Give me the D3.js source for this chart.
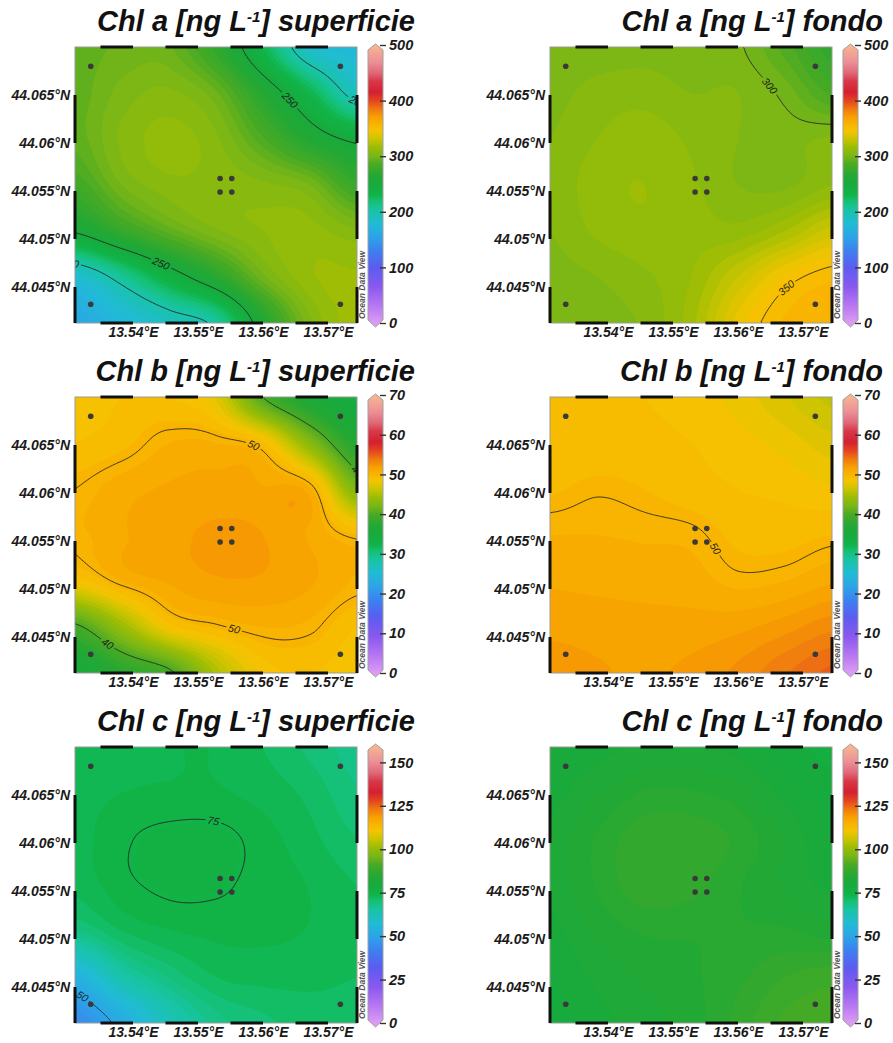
<!DOCTYPE html>
<html>
<head>
<meta charset="utf-8">
<script src="https://cdn.jsdelivr.net/npm/d3@7"></script>
<style>
  body { margin: 0; background: #fff; }
  svg { display: block; }
  text { font-family: "Liberation Sans", Arial, sans-serif; }
</style>
</head>
<body>
<svg id="chart" width="893" height="1043"></svg>
<script>
// ---- data ----
const lonTicks = [13.54, 13.55, 13.56, 13.57]
const latTicks = [44.045, 44.05, 44.055, 44.06, 44.065]
const lonExtent = [13.53108, 13.57446]
const latExtent = [44.04125, 44.0700]

// sampling stations
const stationLon = [13.5335, 13.5719, 13.5534, 13.5552, 13.5534, 13.5552, 13.5335, 13.5719]
const stationLat = [44.0680, 44.0680, 44.0563, 44.0563, 44.0549, 44.0549, 44.0432, 44.0432]

// coarse gridded field (rows north -> south, cols west -> east)
const gridLon = [13.53108, 13.53831, 13.54554, 13.55277, 13.56000, 13.56723, 13.57446]
const gridLat = [44.07000, 44.06521, 44.06042, 44.05563, 44.05083, 44.04604, 44.04125]

const chlaSuperficie = [
  [292, 296, 296, 272, 230, 185, 178],
  [292, 302, 306, 296, 264, 230, 192],
  [292, 306, 312, 306, 286, 262, 246],
  [280, 300, 308, 308, 306, 300, 276],
  [252, 274, 292, 304, 310, 312, 306],
  [182, 208, 238, 266, 298, 314, 316],
  [160, 176, 190, 205, 262, 304, 318]
]
const chlaFondo = [
  [300.5, 302, 303, 302, 301, 288, 272],
  [303, 307, 308, 305, 305, 298, 284],
  [305, 310, 313, 309, 305, 303, 306],
  [306, 313, 315, 311, 305, 304, 310],
  [305, 311, 314, 313, 312, 320, 332],
  [303, 305, 309, 315, 330, 346, 354],
  [302, 303, 306, 318, 342, 356, 360]
]
const chlbSuperficie = [
  [48.5, 49.0, 49.0, 47.5, 40.0, 36.0, 34.0],
  [49.0, 49.5, 50.4, 50.4, 49.2, 43.0, 37.0],
  [50.0, 50.8, 51.2, 51.4, 51.2, 50.6, 42.5],
  [50.2, 51.0, 51.6, 51.9, 51.8, 51.0, 49.7],
  [48.5, 50.4, 51.2, 51.7, 51.7, 51.2, 50.3],
  [39.5, 44.0, 48.5, 49.8, 50.4, 50.2, 49.0],
  [35.0, 37.5, 39.5, 45.0, 48.5, 49.0, 48.5]
]
const chlbFondo = [
  [49.0, 49.0, 49.0, 48.7, 48.0, 47.0, 46.0],
  [49.2, 49.2, 49.2, 49.0, 48.6, 48.0, 47.2],
  [49.6, 49.9, 49.7, 49.3, 49.0, 48.8, 48.4],
  [50.4, 50.4, 50.3, 50.2, 49.5, 49.4, 49.7],
  [51.0, 50.9, 50.8, 50.7, 50.2, 50.4, 51.0],
  [51.6, 51.5, 51.4, 51.4, 51.6, 52.2, 53.0],
  [52.2, 51.9, 51.7, 52.0, 52.7, 53.8, 54.8]
]
const chlcSuperficie = [
  [72.0, 73.0, 73.5, 73.5, 72.0, 70.0, 68.0],
  [73.0, 73.6, 73.8, 73.8, 73.0, 71.5, 69.0],
  [73.0, 74.7, 75.6, 75.6, 74.3, 72.5, 70.5],
  [72.5, 74.5, 75.4, 75.3, 74.4, 73.5, 72.0],
  [68.5, 72.0, 73.5, 74.0, 74.0, 73.5, 72.5],
  [54.0, 64.0, 69.0, 72.0, 72.5, 72.5, 72.0],
  [44.0, 52.0, 62.0, 68.0, 70.0, 71.0, 71.0]
]
const chlcFondo = [
  [80, 81, 82, 82, 81, 79, 78],
  [81, 83, 85, 85, 84, 81, 79],
  [82, 85, 87.5, 87.5, 86, 83, 80],
  [82, 85, 87.5, 87, 85, 83, 81],
  [81, 83.5, 85, 85, 85, 85, 84],
  [80, 82, 83.5, 84.5, 86, 88, 89],
  [79, 81, 82.5, 84, 87, 90, 91]
]

// colour bar ticks
const ticksChla = [0, 100, 200, 300, 400, 500]
const ticksChlb = [0, 10, 20, 30, 40, 50, 60, 70]
const ticksChlc = [0, 25, 50, 75, 100, 125, 150]

// contour levels and label anchors [level, lon, lat]
const levelsChlaSup = [200, 250]
const levelsChlaFon = [300, 350]
const levelsChlbSup = [40, 50]
const levelsChlbFon = [50]
const levelsChlcSup = [50, 75]
const levelsChlcFon = []
const labelsChlaSup = [[250, 13.5642, 44.0645], [200, 13.5743, 44.06385], [250, 13.5439, 44.0468], [200, 13.5306, 44.04844]]
const labelsChlaFon = [[300, 13.5654, 44.06625], [350, 13.5668, 44.04542]]
const labelsChlbSup = [[50, 13.5585, 44.0649], [50, 13.5557, 44.04615], [40, 13.5743, 44.0621], [40, 13.5369, 44.0451]]
const labelsChlbFon = [[50, 13.5562, 44.05406]]
const labelsChlcSup = [[75, 13.5522, 44.0617], [50, 13.5325, 44.0443]]
const labelsChlcFon = []

// ODV-like palette, fraction of the colour range
const palette = [
  [0.00, '#dc9cf4'], [0.06, '#b878f2'], [0.13, '#8a58f0'], [0.20, '#5c5cf0'],
  [0.26, '#3c80f0'], [0.31, '#2ca4e8'], [0.36, '#20bcd4'], [0.41, '#18c4a0'],
  [0.44, '#14c070'], [0.46, '#10b448'], [0.50, '#18aa3c'], [0.53, '#24a834'],
  [0.57, '#48aa24'], [0.60, '#78b618'], [0.63, '#98bc06'], [0.66, '#c8c400'],
  [0.69, '#f4c400'], [0.71, '#f8b800'], [0.74, '#f8a000'], [0.77, '#f07810'],
  [0.80, '#e44420'], [0.83, '#d42030'], [0.87, '#d83848'], [0.90, '#e06878'],
  [0.94, '#ec9098'], [1.00, '#f8b890']
]

const panels = [
  {name: 'Chl a', layer: 'superficie', grid: chlaSuperficie, max: 500, ticks: ticksChla, levels: levelsChlaSup, labels: labelsChlaSup, col: 0, row: 0},
  {name: 'Chl a', layer: 'fondo', grid: chlaFondo, max: 500, ticks: ticksChla, levels: levelsChlaFon, labels: labelsChlaFon, col: 1, row: 0},
  {name: 'Chl b', layer: 'superficie', grid: chlbSuperficie, max: 70, ticks: ticksChlb, levels: levelsChlbSup, labels: labelsChlbSup, col: 0, row: 1},
  {name: 'Chl b', layer: 'fondo', grid: chlbFondo, max: 70, ticks: ticksChlb, levels: levelsChlbFon, labels: labelsChlbFon, col: 1, row: 1},
  {name: 'Chl c', layer: 'superficie', grid: chlcSuperficie, max: 160, ticks: ticksChlc, levels: levelsChlcSup, labels: labelsChlcSup, col: 0, row: 2},
  {name: 'Chl c', layer: 'fondo', grid: chlcFondo, max: 160, ticks: ticksChlc, levels: levelsChlcFon, labels: labelsChlcFon, col: 1, row: 2}
]

// ---- layout ----
const W = 282, H = 276
const colX = [75, 550]
const rowY = [47, 397, 747]
const titleRight = [W + 58, W + 51]
const nx = 188, ny = 184, cell = W / nx
const font = '"Liberation Sans", Arial, sans-serif'

// catmull-rom bicubic on the coarse grid
const cr = (p0, p1, p2, p3, t) =>
  0.5 * (2 * p1 + (-p0 + p2) * t + (2 * p0 - 5 * p1 + 4 * p2 - p3) * t * t + (-p0 + 3 * p1 - 3 * p2 + p3) * t * t * t)

function bicubic(g, u, v) {
  const m = g.length, n = g[0].length
  const i = Math.max(0, Math.min(n - 2, Math.floor(u)))
  const j = Math.max(0, Math.min(m - 2, Math.floor(v)))
  const tx = u - i, ty = v - j
  const at = (r, c) => g[Math.max(0, Math.min(m - 1, r))][Math.max(0, Math.min(n - 1, c))]
  const row = r => cr(at(r, i - 1), at(r, i), at(r, i + 1), at(r, i + 2), tx)
  return cr(row(j - 1), row(j), row(j + 1), row(j + 2), ty)
}

// iso line of one level, with the grid border parts removed
function isoLines(values, level) {
  const geo = d3.contours().size([nx, ny]).thresholds([level])(values)[0]
  const onB = p => p[0] <= 0 || p[0] >= nx || p[1] <= 0 || p[1] >= ny
  const lines = []
  geo.coordinates.forEach(poly => poly.forEach(ring => {
    const last = ring[ring.length - 1]
    const pts = (last[0] === ring[0][0] && last[1] === ring[0][1]) ? ring.slice(0, -1) : ring
    const n = pts.length
    const ok = k => !(onB(pts[k]) && onB(pts[(k + 1) % n]))
    let start = 0
    for (let k = 0; k < n; k++) if (!ok(k)) { start = k; break }
    let cur = null
    for (let s = 0; s < n; s++) {
      const k = (start + s) % n
      if (ok(k)) {
        if (!cur) { cur = [pts[k]]; lines.push(cur) }
        cur.push(pts[(k + 1) % n])
      } else cur = null
    }
  }))
  return lines.map(l => l.map(p => [p[0] * cell, p[1] * cell]))
}

const svg = d3.select('#chart')
const defs = svg.append('defs')

panels.forEach((p, k) => {
  const g = svg.append('g').attr('transform', `translate(${colX[p.col]},${rowY[p.row]})`)
  const x = d3.scaleLinear().domain(lonExtent).range([0, W])
  const y = d3.scaleLinear().domain([latExtent[1], latExtent[0]]).range([0, H])
  const color = d3.scaleLinear()
    .domain(palette.map(d => d[0] * p.max))
    .range(palette.map(d => d[1]))
    .clamp(true)

  const gu = d3.scaleLinear().domain([gridLon[0], gridLon[gridLon.length - 1]]).range([0, gridLon.length - 1])
  const gv = d3.scaleLinear().domain([gridLat[0], gridLat[gridLat.length - 1]]).range([0, gridLat.length - 1])
  const values = new Float64Array(nx * ny)
  for (let j = 0; j < ny; j++) {
    const v = gv(y.invert((j + 0.5) * cell))
    for (let i = 0; i < nx; i++) {
      values[j * nx + i] = bicubic(p.grid, gu(x.invert((i + 0.5) * cell)), v)
    }
  }

  defs.append('clipPath').attr('id', 'clip' + k)
    .append('rect').attr('width', W).attr('height', H)
  const plot = g.append('g').attr('clip-path', `url(#clip${k})`)

  // filled field
  const step = p.max / 100
  const vmin = d3.min(values)
  const th = d3.range(0, p.max, step).filter(t => t > vmin - step)
  const bands = d3.contours().size([nx, ny]).thresholds(th)(values)
  plot.append('g').attr('transform', `scale(${cell})`)
    .selectAll('path')
    .data(bands.filter(b => b.coordinates.length))
    .join('path')
    .attr('d', d3.geoPath())
    .attr('fill', b => color(b.value + step / 2))

  // contour lines with gaps under the labels
  const mask = defs.append('mask').attr('id', 'mask' + k)
    .attr('maskUnits', 'userSpaceOnUse')
    .attr('x', -10).attr('y', -10).attr('width', W + 20).attr('height', H + 20)
  mask.append('rect').attr('x', -10).attr('y', -10).attr('width', W + 20).attr('height', H + 20).attr('fill', '#fff')

  const linesByLevel = new Map(p.levels.map(l => [l, isoLines(values, l)]))
  plot.append('g').attr('mask', `url(#mask${k})`)
    .selectAll('path')
    .data(p.levels.flatMap(l => linesByLevel.get(l)))
    .join('path')
    .attr('d', d3.line())
    .attr('fill', 'none')
    .attr('stroke', '#262626')
    .attr('stroke-width', 0.9)

  p.labels.forEach(([level, lon, lat]) => {
    const ax = x(lon), ay = y(lat)
    let best = null
    ;(linesByLevel.get(level) || []).forEach(l => l.forEach((q, i) => {
      const d = (q[0] - ax) ** 2 + (q[1] - ay) ** 2
      if (!best || d < best.d) best = {d, l, i}
    }))
    if (!best) return
    const {l, i} = best
    const a = l[Math.max(0, i - 3)], b = l[Math.min(l.length - 1, i + 3)]
    let dx = b[0] - a[0], dy = b[1] - a[1]
    const len = Math.hypot(dx, dy) || 1
    dx /= len; dy /= len
    if (dx < 0) { dx = -dx; dy = -dy }
    const q = l[i]
    const sh = (ax - q[0]) * dx + (ay - q[1]) * dy
    const cx = q[0] + dx * sh, cy = q[1] + dy * sh
    const ang = Math.atan2(dy, dx) * 180 / Math.PI
    const tw = String(level).length * 6 + 4
    mask.append('rect')
      .attr('x', -tw / 2).attr('y', -5.5).attr('width', tw).attr('height', 11)
      .attr('transform', `translate(${cx},${cy}) rotate(${ang})`)
      .attr('fill', '#000')
    plot.append('text')
      .attr('transform', `translate(${cx},${cy}) rotate(${ang})`)
      .attr('text-anchor', 'middle')
      .attr('dy', '0.35em')
      .attr('font-size', 10.5)
      .attr('font-style', 'italic')
      .attr('fill', '#1e1e1e')
      .text(level)
  })

  // stations
  plot.append('g').selectAll('circle')
    .data(d3.range(stationLon.length))
    .join('circle')
    .attr('cx', i => x(stationLon[i]))
    .attr('cy', i => y(stationLat[i]))
    .attr('r', 2.8)
    .attr('fill', '#3a3a3a')

  // frame with alternating bars
  g.append('rect').attr('width', W).attr('height', H)
    .attr('fill', 'none').attr('stroke', '#9a9a9a').attr('stroke-width', 1)
  const barStep = 0.005
  const xBars = d3.range(13.535, lonExtent[1], 2 * barStep)
  const yBars = d3.range(44.04, latExtent[1], 2 * barStep)
  const bars = g.append('g').attr('stroke', '#111').attr('stroke-width', 3)
  ;[0, H].forEach(yy => bars.selectAll(null).data(xBars).join('line')
    .attr('x1', d => Math.max(0, x(d))).attr('x2', d => Math.min(W, x(d + barStep)))
    .attr('y1', yy).attr('y2', yy))
  ;[0, W].forEach(xx => bars.selectAll(null).data(yBars).join('line')
    .attr('y1', d => Math.min(H, y(d))).attr('y2', d => Math.max(0, y(d + barStep)))
    .attr('x1', xx).attr('x2', xx))

  // axes
  const xAxis = g.append('g').attr('transform', `translate(0,${H})`)
    .call(d3.axisBottom(x).tickValues(lonTicks).tickSize(0).tickPadding(4)
      .tickFormat(d => `${+d.toFixed(3)}°E`))
  const yAxis = g.append('g')
    .call(d3.axisLeft(y).tickValues(latTicks).tickSize(0).tickPadding(5)
      .tickFormat(d => `${+d.toFixed(3)}°N`))
  ;[xAxis, yAxis].forEach(ax => {
    ax.select('.domain').remove()
    ax.attr('font-family', font).attr('font-size', 14)
      .attr('font-weight', 'bold').attr('font-style', 'italic')
    ax.selectAll('text').attr('fill', '#1a1a1a')
  })

  // colour bar
  const bw = 15
  const cb = g.append('g').attr('transform', `translate(${W + 11},0)`)
  const cyScale = d3.scaleLinear().domain([0, p.max]).range([H, -2])
  const grad = defs.append('linearGradient').attr('id', 'grad' + k)
    .attr('gradientUnits', 'userSpaceOnUse')
    .attr('x1', 0).attr('x2', 0).attr('y1', cyScale(0)).attr('y2', cyScale(p.max))
  grad.selectAll('stop').data(palette).join('stop')
    .attr('offset', d => d[0]).attr('stop-color', d => d[1])
  const y0 = cyScale(p.max) + 5, y1 = H - 3
  cb.append('path')
    .attr('d', `M0,${y0}L${bw / 2},${y0 - 6}L${bw},${y0}L${bw},${y1}L${bw / 2},${y1 + 7}L0,${y1}Z`)
    .attr('fill', `url(#grad${k})`)
    .attr('stroke', '#a0a0a0').attr('stroke-width', 1)
  const cbAxis = cb.append('g').attr('transform', `translate(${bw - 3},0)`)
    .call(d3.axisRight(cyScale).tickValues(p.ticks).tickSize(6).tickPadding(3))
  cbAxis.select('.domain').remove()
  cbAxis.attr('font-family', font).attr('font-size', 14.5)
    .attr('font-weight', 'bold').attr('font-style', 'italic')
  cbAxis.selectAll('line').attr('stroke', '#333').attr('stroke-width', 1.4)
  cbAxis.selectAll('text').attr('fill', '#1a1a1a')

  g.append('text')
    .attr('transform', `translate(${W + 7.5},${H - 4}) rotate(-90)`)
    .attr('font-size', 8.5)
    .attr('font-style', 'italic')
    .attr('font-weight', 'bold')
    .attr('fill', '#555')
    .text('Ocean Data View')

  // title
  const title = g.append('text')
    .attr('x', titleRight[p.col]).attr('y', -16)
    .attr('text-anchor', 'end')
    .attr('font-size', 29)
    .attr('font-weight', 'bold')
    .attr('font-style', 'italic')
    .attr('fill', '#111')
  title.append('tspan').text(`${p.name} [ng L`)
  title.append('tspan').attr('font-size', 15).attr('dy', -9).text('-1')
  title.append('tspan').attr('dy', 9).text(`] ${p.layer}`)
})
</script>
</body>
</html>
